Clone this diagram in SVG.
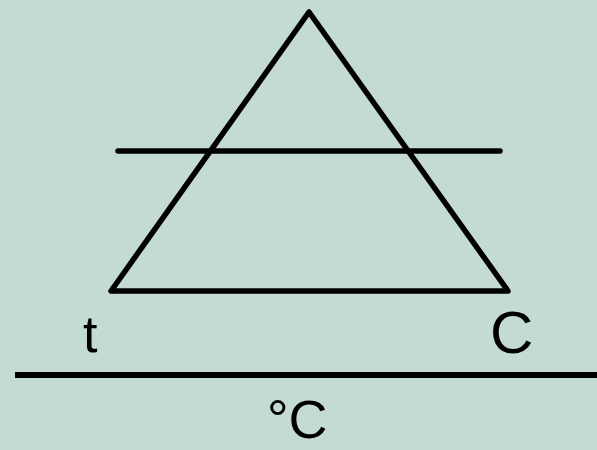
<svg xmlns="http://www.w3.org/2000/svg" width="597" height="450" viewBox="0 0 597 450">
<style>
.ln{stroke:#000;stroke-width:5.5;fill:none;stroke-linejoin:round;stroke-linecap:round}
.lbl{font-family:"Liberation Sans",Arial,sans-serif;fill:#000}
</style>
<rect width="597" height="450" fill="#c4dad4"/>
<g id="connectors">
<polygon id="triangle" class="ln" points="309,12 111,291 508,291"/>
<line class="ln" x1="118" y1="151" x2="500" y2="151"/>
<line class="ln" x1="15" y1="375" x2="597" y2="375" style="stroke-width:6;stroke-linecap:butt"/>
</g>
<g id="label-t"><text class="lbl" x="83" y="352" font-size="52">t</text></g>
<g id="label-C"><text class="lbl" x="490" y="353" font-size="60">C</text></g>
<g id="label-degC"><text class="lbl" x="267" y="438" font-size="54">°C</text></g>
</svg>
